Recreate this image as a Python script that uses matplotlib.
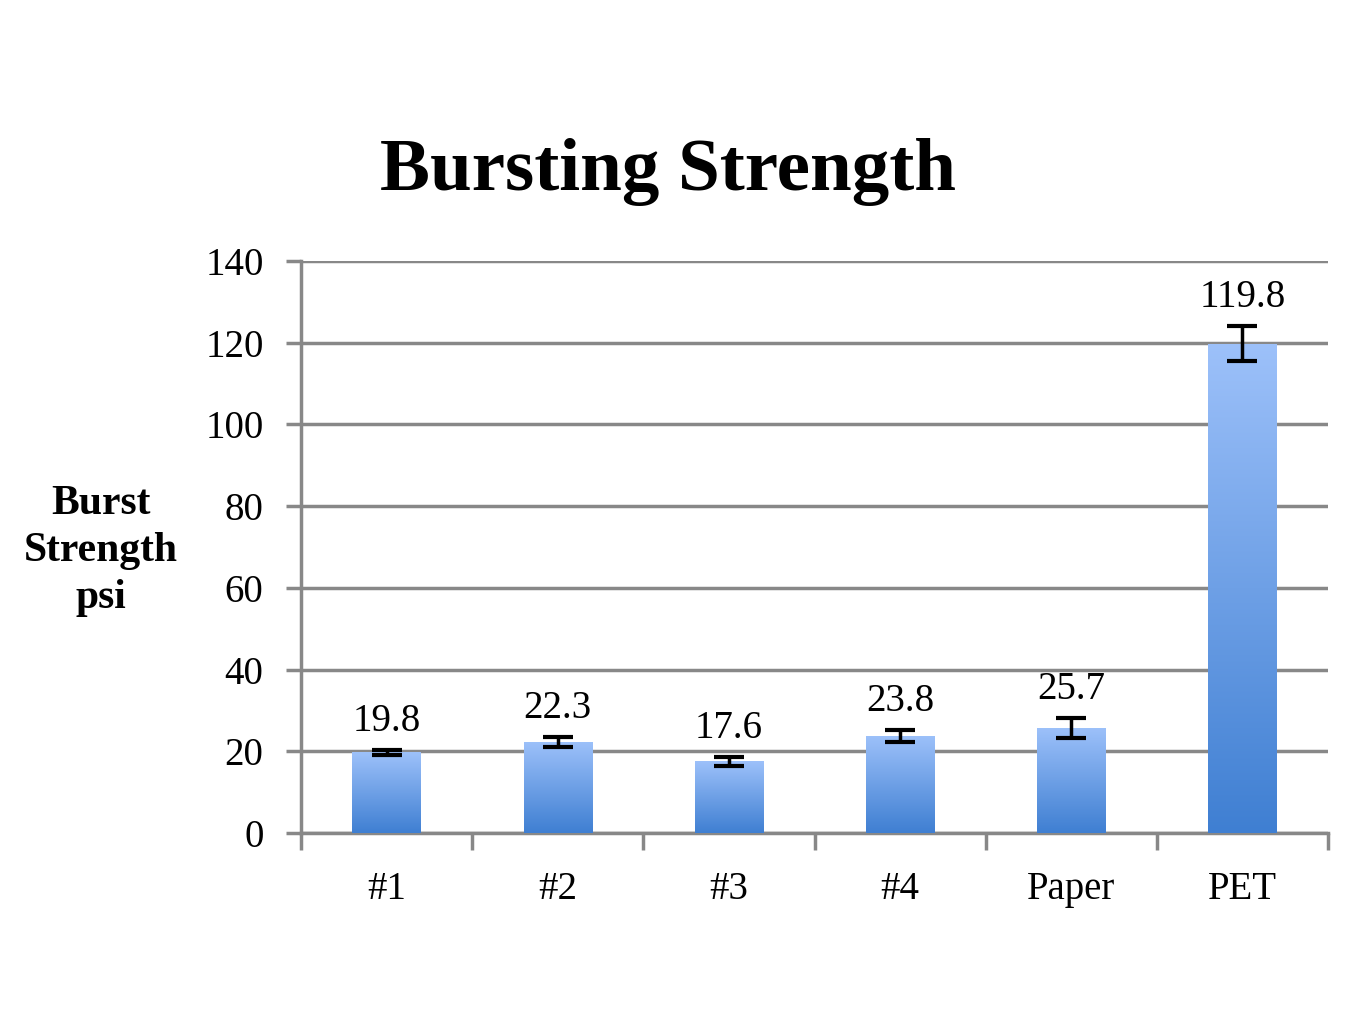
import numpy as np
import matplotlib.pyplot as plt
from matplotlib.colors import LinearSegmentedColormap

# ---------------------------------------------------
# Data
# ---------------------------------------------------

categories = ["#1", "#2", "#3", "#4", "Paper", "PET"]
burst_psi = [19.8, 22.3, 17.6, 23.8, 25.7, 119.8]
burst_err = [0.6, 1.2, 1.1, 1.5, 2.4, 4.4]
yticks = [0, 20, 40, 60, 80, 100, 120, 140]

# ---------------------------------------------------
# Style
# ---------------------------------------------------

plt.rcParams["font.family"] = ["Liberation Serif", "DejaVu Serif"]
grid_grey = "#888888"
grad = LinearSegmentedColormap.from_list("bar", ["#3f7fd2", "#9dc1fa"])

fig = plt.figure(figsize=(13.64, 10.23), dpi=100)
ax = fig.add_axes([0.2207, 0.1857, 0.7529, 0.5592])

x = np.arange(len(categories))
bars = ax.bar(x, burst_psi, width=0.4, color="none", zorder=3)

# gradient fill, clipped to each bar
gradient = np.linspace(0, 1, 256).reshape(-1, 1)
for b in bars:
    x0, y0 = b.get_x(), b.get_y()
    w, h = b.get_width(), b.get_height()
    im = ax.imshow(gradient, cmap=grad, origin="lower", aspect="auto",
                   extent=[x0, x0 + w, y0, y0 + h], zorder=3)
    im.set_clip_path(b)

ax.errorbar(x, burst_psi, yerr=burst_err, fmt="none", ecolor="black",
            elinewidth=2.5, capsize=11, capthick=3, zorder=4)

for xi, v, e in zip(x, burst_psi, burst_err):
    ax.annotate(f"{v}", (xi, v + e), xytext=(0, 7), textcoords="offset points",
                ha="center", va="bottom", fontsize=28)

ax.set_xlim(-0.5, len(categories) - 0.5)
ax.set_ylim(0, 140)
ax.set_yticks(yticks)
ax.set_yticklabels([str(t) for t in yticks], fontsize=28)

# category labels between boundary ticks
ax.set_xticks(np.arange(len(categories) + 1) - 0.5)
ax.set_xticklabels([])
ax.set_xticks(x, minor=True)
ax.set_xticklabels(categories, minor=True, fontsize=28)
ax.tick_params(axis="x", which="minor", length=0, pad=27)
ax.tick_params(axis="x", which="major", length=12, width=2.5, color=grid_grey)
ax.tick_params(axis="y", length=11, width=2.5, color=grid_grey, pad=16)

ax.grid(axis="y", color=grid_grey, linewidth=2.5, zorder=0)
ax.set_axisbelow(True)
for side in ["top", "right"]:
    ax.spines[side].set_visible(False)
for side in ["left", "bottom"]:
    ax.spines[side].set_color(grid_grey)
    ax.spines[side].set_linewidth(2.5)

fig.text(0.49, 0.8143, "Bursting Strength", ha="center", va="baseline",
         fontsize=54, fontweight="bold")
fig.text(0.074, 0.4614, "Burst\nStrength\npsi", ha="center", va="center",
         fontsize=30, fontweight="bold", linespacing=1.32)

fig.savefig("out.png", dpi=100)
